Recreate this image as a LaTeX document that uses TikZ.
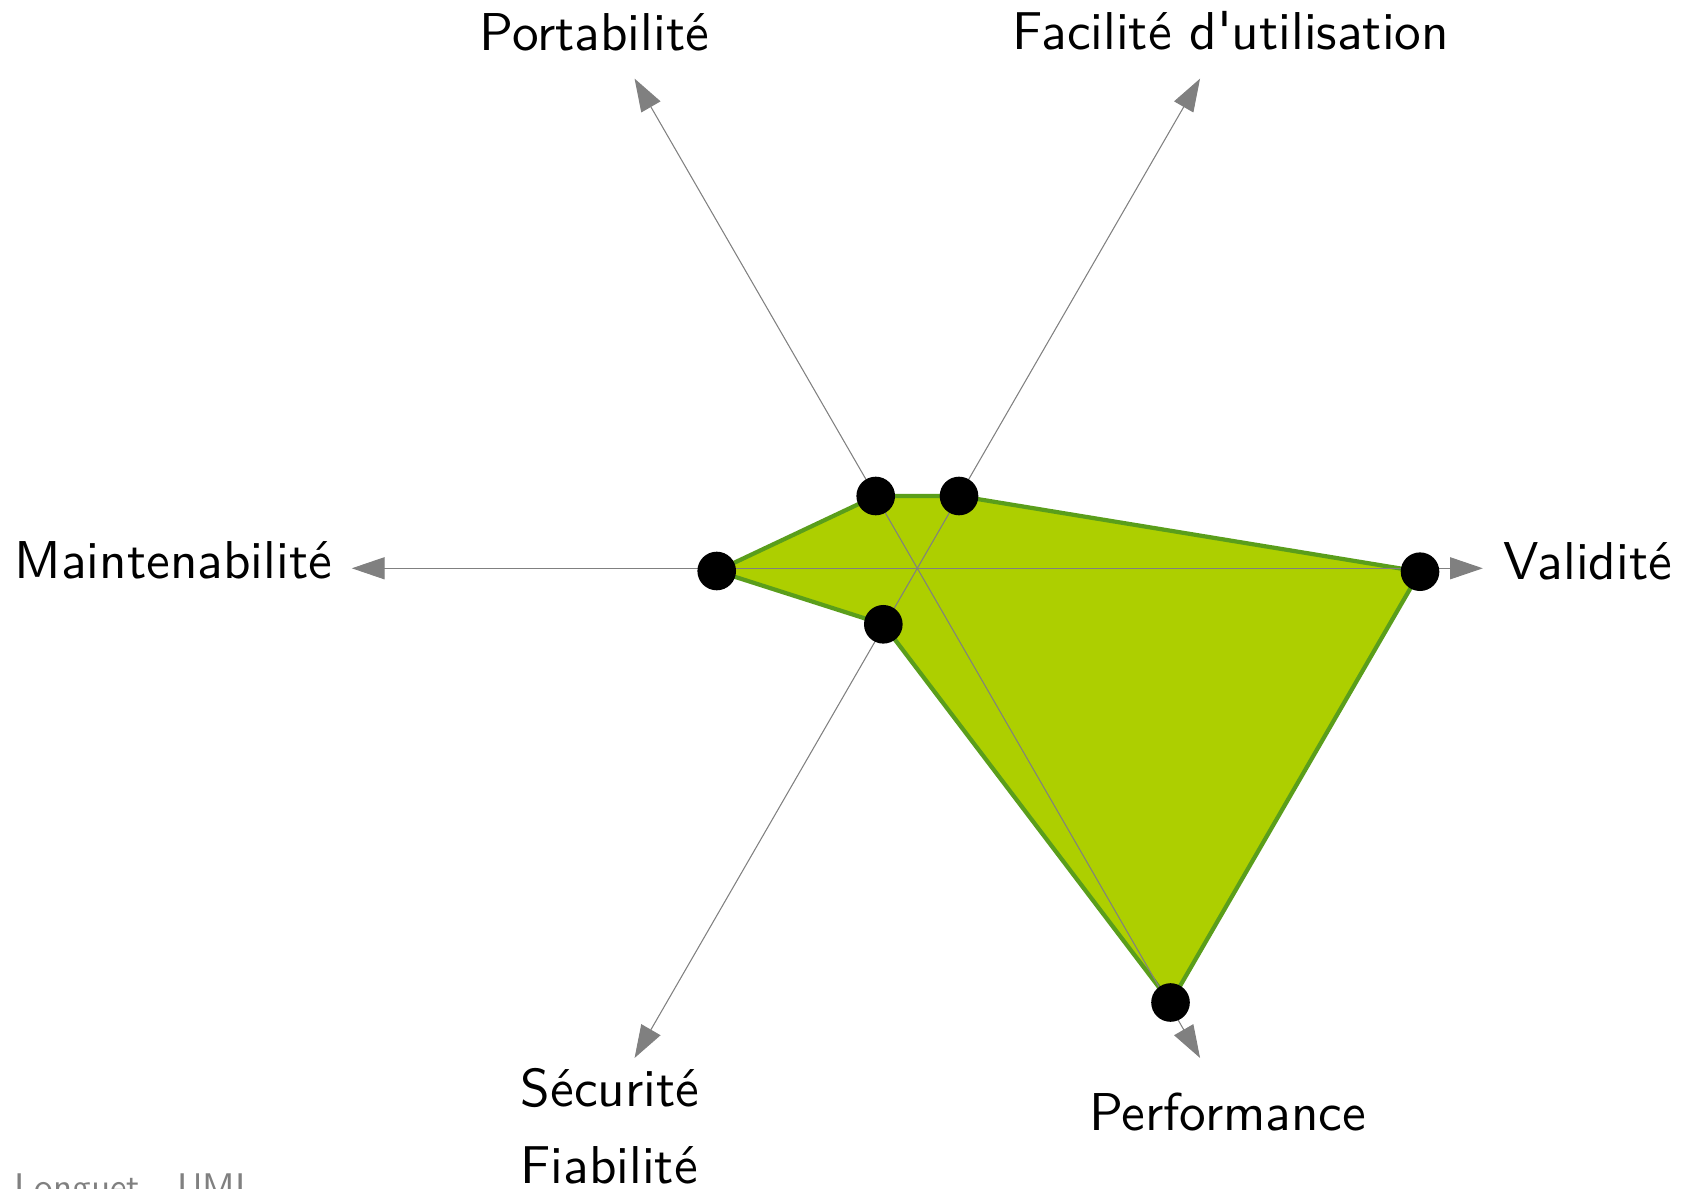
\documentclass[tikz,border=0pt]{standalone}
\usetikzlibrary{arrows.meta}
\definecolor{axisgray}{HTML}{808080}
\definecolor{polyfill}{HTML}{ADCF00}
\definecolor{polyline}{HTML}{5A9E1B}
\pgfdeclarelayer{bg}
\pgfsetlayers{bg,main}
\font\labfont="[lmsans10-regular]" at 15.15pt
\font\footfont="[lmsans10-regular]" at 10.55pt
\begin{document}
\begin{tikzpicture}[x=0.01cm,y=-0.01cm,
  axis/.style={draw=axisgray,line width=0.3pt,-{Triangle[length=3.27mm,width=2.2mm]}},
  dotnode/.style={circle,fill=black,inner sep=0pt,minimum size=3.86mm},
  poly/.style={fill=polyfill,draw=polyline,line width=1.2pt},
  lab/.style={inner sep=0pt,anchor=base,font=\labfont},
  foot/.style={inner sep=0pt,anchor=base west,text=axisgray,font=\footfont}]
\useasboundingbox (0,0) rectangle (1683,1189);
% centre and axis ends
\coordinate (O) at (917.3,568.3);
\coordinate (tVal) at (1482.8,568.3);
\coordinate (tFac) at (1200.05,78.6);
\coordinate (tPor) at (634.55,78.6);
\coordinate (tMai) at (351.8,568.3);
\coordinate (tSec) at (634.55,1058);
\coordinate (tPer) at (1200.05,1058);
% data points
\node[dotnode] (vVal) at (1420,571.7) {};
\node[dotnode] (vFac) at (959,496) {};
\node[dotnode] (vPor) at (875.7,496) {};
\node[dotnode] (vMai) at (716.7,571) {};
\node[dotnode] (vSec) at (883.3,624.3) {};
\node[dotnode] (vPer) at (1170.5,1002.5) {};
\begin{pgfonlayer}{bg}
% polygon
\path[poly] (vVal.center) -- (vFac.center) -- (vPor.center) -- (vMai.center) -- (vSec.center) -- (vPer.center) -- cycle;
% axes
\foreach \t in {tVal,tFac,tPor,tMai,tSec,tPer} \draw[axis] (O) -- (\t);
\end{pgfonlayer}
% labels
\node[lab] (lPor) at (594.2,50.7) {Portabilité};
\node[lab] (lFac) at (1230.8,50) {Facilité d'utilisation};
\node[lab] (lMai) at (173.3,578.3) {Maintenabilité};
\node[lab] (lVal) at (1587.9,580) {Validité};
\node[lab] (lSec) at (610,1106.7) {Sécurité};
\node[lab] (lFia) at (609,1183.3) {Fiabilité};
\node[lab] (lPer) at (1227.5,1130) {Performance};
\node[foot] (foot) at (14,1199.3) {Longuet - UML};
\end{tikzpicture}
\end{document}
